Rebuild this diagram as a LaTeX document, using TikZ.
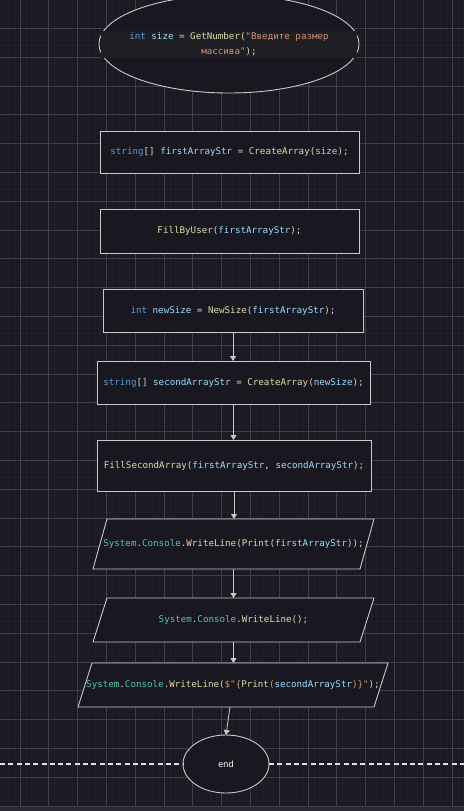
\documentclass[tikz,border=0pt]{standalone}
\usepackage{fontspec}
\setmainfont{Liberation Sans}
\setmonofont{DejaVu Sans Mono}
\usetikzlibrary{shapes.geometric,arrows.meta}
\definecolor{bgc}{HTML}{1B1922}
\definecolor{minorc}{HTML}{201E28}
\definecolor{majorc}{HTML}{403E4B}
\definecolor{stripc}{HTML}{2B2A30}
\definecolor{boxc}{HTML}{19171F}
\definecolor{bandc}{HTML}{1F1E22}
\definecolor{linec}{HTML}{CACACA}
\definecolor{kwcol}{HTML}{569CD6}
\definecolor{varcol}{HTML}{9CDCFE}
\definecolor{fncol}{HTML}{DCDCAA}
\definecolor{strcol}{HTML}{CE9178}
\definecolor{typcol}{HTML}{4EC9B0}
\definecolor{puncol}{HTML}{D4D4D4}
\definecolor{parcol}{HTML}{E2D8A8}
\definecolor{intcol}{HTML}{C99A6C}
\newcommand\kwc[1]{\textcolor{kwcol}{#1}}
\newcommand\varc[1]{\textcolor{varcol}{#1}}
\newcommand\fnc[1]{\textcolor{fncol}{#1}}
\newcommand\strc[1]{\textcolor{strcol}{#1}}
\newcommand\typc[1]{\textcolor{typcol}{#1}}
\newcommand\punc[1]{\textcolor{puncol}{#1}}
\newcommand\parc[1]{\textcolor{parcol}{#1}}
\newcommand\intc[1]{\textcolor{intcol}{#1}}
\pgfdeclarelayer{gridlayer}
\pgfdeclarelayer{shapelayer}
\pgfsetlayers{gridlayer,shapelayer,main}
\begin{document}
\begin{tikzpicture}[x=1pt,y=-1pt,
  code/.style={font=\ttfamily\fontsize{9.2}{15}\selectfont},
  box/.style={rectangle,draw=linec,fill=boxc,line width=0.9pt,inner sep=0pt,outer sep=0pt,code},
  pnode/.style={rectangle,inner sep=0pt,outer sep=0pt,code},
  pshape/.style={draw=linec,fill=boxc,line width=0.9pt,line join=miter},
  oval/.style={ellipse,draw=linec,fill=boxc,line width=0.9pt,inner sep=0pt,outer sep=0pt},
  arr/.style={draw=linec,line width=0.8pt,-{Triangle[length=5pt,width=6pt]}},
  dashline/.style={draw=white!88!black,line width=1.1pt,dash pattern=on 5pt off 3.3pt},
  minorline/.style={draw=minorc,line width=0.4pt},
  majorline/.style={draw=majorc,line width=0.7pt}]
\useasboundingbox (0,0) rectangle (464,811);
\begin{pgfonlayer}{gridlayer}
\fill[bgc] (0,0) rectangle (464,811);
\foreach \k in {-3,...,77} \draw[minorline] ({20+5.76*\k},0) -- ({20+5.76*\k},811);
\foreach \k in {-4,...,136} \draw[minorline] (0,{28.3+5.76*\k}) -- (464,{28.3+5.76*\k});
\foreach \k in {0,...,15} \draw[majorline] ({20+28.8*\k},0) -- ({20+28.8*\k},811);
\foreach \k in {0,...,27} \draw[majorline] (0,{28.3+28.8*\k}) -- (464,{28.3+28.8*\k});
\fill[stripc] (0,807) rectangle (464,811);
\end{pgfonlayer}

% start ellipse with code band
\node[oval,minimum width=260,minimum height=98] (start) at (229,44) {};
\node[fill=bandc,inner sep=0pt,minimum width=256,minimum height=27,code,align=center] (starttext) at (229,44)
  {\kwc{int} \varc{size} \punc{=} \fnc{GetNumber}\parc{(}\strc{"Введите размер}\\\strc{массива"}\parc{)}\punc{;}};

% rectangles
\node[box,minimum width=259,minimum height=42] (b1) at (229.5,152)
  {\kwc{string}\punc{[]} \varc{firstArrayStr} \punc{=} \fnc{CreateArray}\parc{(}\varc{size}\parc{)}\punc{;}};
\node[box,minimum width=259,minimum height=44] (b2) at (229.5,231)
  {\fnc{FillByUser}\parc{(}\varc{firstArrayStr}\parc{)}\punc{;}};
\node[box,minimum width=260,minimum height=43] (b3) at (233,310.5)
  {\kwc{int} \varc{newSize} \punc{=} \fnc{NewSize}\parc{(}\varc{firstArrayStr}\parc{)}\punc{;}};
\node[box,minimum width=273,minimum height=43] (b4) at (233.5,382.5)
  {\kwc{string}\punc{[]} \varc{secondArrayStr} \punc{=} \fnc{CreateArray}\parc{(}\varc{newSize}\parc{)}\punc{;}};
\node[box,minimum width=274,minimum height=51] (b5) at (234,465.5)
  {\fnc{FillSecondArray}\parc{(}\varc{firstArrayStr}\punc{,} \varc{secondArrayStr}\parc{)}\punc{;}};

% parallelograms
\node[pnode,minimum width=281,minimum height=50] (p1) at (233.5,544)
  {\typc{System}\punc{.}\typc{Console}\punc{.}\fnc{WriteLine}\parc{(}\fnc{Print}\parc{(}\varc{firstArrayStr}\parc{))}\punc{;}};
\node[pnode,minimum width=281,minimum height=44] (p2) at (233.5,620)
  {\typc{System}\punc{.}\typc{Console}\punc{.}\fnc{WriteLine}\parc{()}\punc{;}};
\node[pnode,minimum width=310,minimum height=44] (p3) at (233,685)
  {\typc{System}\punc{.}\typc{Console}\punc{.}\fnc{WriteLine}\parc{(}\strc{\$"}\intc{\{}\fnc{Print}\intc{(}\varc{secondArrayStr}\intc{)\}}\strc{"}\parc{)}\punc{;}};
\begin{pgfonlayer}{shapelayer}
\foreach \p in {p1,p2,p3}
  \draw[pshape] ([xshift=14pt]\p.north west) -- (\p.north east) -- ([xshift=-14pt]\p.south east) -- (\p.south west) -- cycle;
\end{pgfonlayer}

% end
\node[oval,minimum width=86,minimum height=58,text=white,font=\fontsize{9}{11}\selectfont] (endnode) at (226,764) {end};
\coordinate (dl) at (0,764);
\coordinate (dr) at (464,764);
\draw[dashline] (dl) -- (endnode.west);
\draw[dashline] (endnode.east) -- (dr);

% connectors
\draw[arr] (b3.south) -- (b3.south |- b4.north);
\draw[arr] (b4.south) -- (b4.south |- b5.north);
\draw[arr] (b5.south) -- (b5.south |- p1.north);
\draw[arr] (p1.south) -- (p1.south |- p2.north);
\draw[arr] (p2.south) -- (p2.south |- p3.north);
\draw[arr] ([xshift=-3pt]p3.south) -- (endnode.north);
\end{tikzpicture}
\end{document}
